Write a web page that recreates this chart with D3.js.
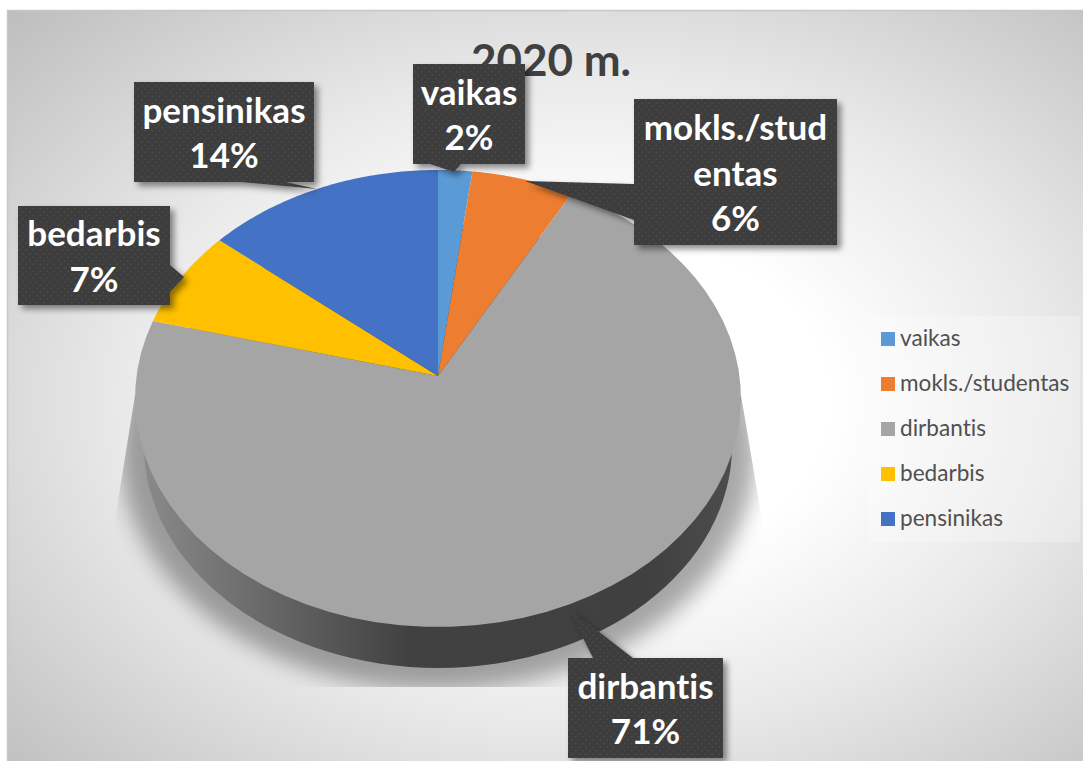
<!DOCTYPE html>
<html>
<head>
<meta charset="utf-8">
<script src="https://cdnjs.cloudflare.com/ajax/libs/d3/7.8.5/d3.min.js"></script>
<style>
  html, body { margin: 0; padding: 0; background: #fff; }
  svg { display: block; font-family: Lato, "Open Sans", sans-serif; font-variant-ligatures: none; }
</style>
</head>
<body>
<div id="chart"></div>
<script>
const title = "2020 m."
const categories = ["vaikas", "mokls./studentas", "dirbantis", "bedarbis", "pensinikas"]
const values = [2, 6, 71, 7, 14]
const labelLines = [["vaikas"], ["mokls./stud", "entas"], ["dirbantis"], ["bedarbis"], ["pensinikas"]]
const colors = ["#5b9bd5", "#ed7d31", "#a5a5a5", "#ffc000", "#4472c4"]

// Label boxes and where their pointers go (box x0,y0,x1,y1 then pointer polygon)
const callouts = [
  { box: [413, 64, 525, 164], tip: [[430, 164], [454, 172], [461, 164]] },
  { box: [634, 99, 837, 245], tip: [[634, 184], [525, 181], [634, 220]] },
  { box: [568, 658, 723, 758], tip: [[593, 658], [568, 608], [633, 658]] },
  { box: [18, 206, 170, 305], tip: [[170, 265], [184, 277], [170, 292]] },
  { box: [134, 82, 314, 182], tip: [[241, 182], [317, 189], [286, 182]] }
]

const width = 1083
const height = 761

// Pie disc in perspective: centre of the circle lands on the apex
const apex = { x: 438, y: 376 }
const persp = { f: 301.5, g: 226.3, k: -0.0985 }
const project = (angle, r = 1) => {
  const X = r * Math.sin(angle)
  const Y = -r * Math.cos(angle)
  const w = 1 + persp.k * Y
  return [apex.x + persp.f * X / w, apex.y + persp.g * Y / w]
}

const svg = d3.select("#chart").append("svg").attr("width", width).attr("height", height)
const defs = svg.append("defs")

const bg = defs.append("radialGradient").attr("id", "bg")
  .attr("cx", 0.54).attr("cy", 0.52).attr("r", 0.75)
bg.append("stop").attr("offset", 0.3).attr("stop-color", "#ffffff")
bg.append("stop").attr("offset", 0.58).attr("stop-color", "#e9e9e9")
bg.append("stop").attr("offset", 1).attr("stop-color", "#bdbdbd")

const wall = defs.append("linearGradient").attr("id", "wall")
  .attr("gradientUnits", "userSpaceOnUse")
  .attr("x1", 135).attr("x2", 741).attr("y1", 0).attr("y2", 0)
wall.append("stop").attr("offset", 0).attr("stop-color", "#8c8c8c")
wall.append("stop").attr("offset", 0.45).attr("stop-color", "#414141")
wall.append("stop").attr("offset", 0.85).attr("stop-color", "#404040")
wall.append("stop").attr("offset", 1).attr("stop-color", "#4e4e4e")

const dots = defs.append("pattern").attr("id", "dots")
  .attr("patternUnits", "userSpaceOnUse").attr("width", 7).attr("height", 7)
dots.append("rect").attr("width", 7).attr("height", 7).attr("fill", "#3e3e3e")
dots.append("circle").attr("cx", 1.75).attr("cy", 1.75).attr("r", 0.8).attr("fill", "#4e4e4e")
dots.append("circle").attr("cx", 5.25).attr("cy", 5.25).attr("r", 0.8).attr("fill", "#4e4e4e")

const blur = defs.append("filter").attr("id", "blur")
  .attr("x", "-20%").attr("y", "-20%").attr("width", "140%").attr("height", "140%")
blur.append("feGaussianBlur").attr("stdDeviation", 11)

const drop = defs.append("filter").attr("id", "drop")
  .attr("x", "-20%").attr("y", "-20%").attr("width", "140%").attr("height", "140%")
drop.append("feDropShadow").attr("dx", 4).attr("dy", 4).attr("stdDeviation", 3)
  .attr("flood-color", "#000").attr("flood-opacity", 0.45)

defs.append("clipPath").attr("id", "shadowClip").append("polygon")
  .attr("points", "135,395 115,520 115,687 762,687 762,520 741,395")

// Chart area
svg.append("rect").attr("x", 7).attr("y", 10)
  .attr("width", width - 7).attr("height", height - 10)
  .attr("fill", "url(#bg)")
svg.append("path").attr("d", `M7.5,${height}V10.5H${width}`)
  .attr("fill", "none").attr("stroke", "#c8c8c8").attr("stroke-width", 1.5)

// Shadow under the pie
svg.append("g").attr("clip-path", "url(#shadowClip)")
  .append("ellipse")
  .attr("cx", 438).attr("cy", 450).attr("rx", 318).attr("ry", 240)
  .attr("fill", "#000").attr("opacity", 0.34).attr("filter", "url(#blur)")

// Side wall
const base = svg.append("g").attr("fill", "url(#wall)")
base.append("ellipse").attr("cx", 438).attr("cy", 446).attr("rx", 294).attr("ry", 222)
base.append("polygon").attr("points", "135,398 144,446 732,446 741,398")

// Top of the pie
const pie = d3.pie().sort(null).value(d => d)
const arcs = pie(values)
const line = d3.line()

svg.append("g").selectAll("path")
  .data(arcs)
  .enter().append("path")
    .attr("d", d => {
      const steps = d3.range(0, 61).map(i => d.startAngle + (d.endAngle - d.startAngle) * i / 60)
      return line([[apex.x, apex.y], ...steps.map(a => project(a))]) + "Z"
    })
    .attr("fill", (d, i) => colors[i])

// Title, the vaikas box sits on top of it like in the original
svg.append("text").attr("x", 551).attr("y", 76)
  .attr("text-anchor", "middle")
  .attr("font-size", 44).attr("font-weight", 700).attr("fill", "#404040")
  .text(title)

// Data labels
const callout = svg.append("g").selectAll("g")
  .data(callouts)
  .enter().append("g")

callout.append("path")
  .attr("d", d => {
    const [x0, y0, x1, y1] = d.box
    return `M${x0},${y0}H${x1}V${y1}H${x0}Z` + line(d.tip) + "Z"
  })
  .attr("fill", "url(#dots)")
  .attr("filter", "url(#drop)")

callout.each(function (d, i) {
  const cx = (d.box[0] + d.box[2]) / 2
  const lines = [...labelLines[i], d3.format(".0%")(values[i] / 100)]
  const lineGap = 45.5
  const startY = (d.box[1] + d.box[3]) / 2 - (lines.length - 1) * lineGap / 2 + 13.5
  d3.select(this).selectAll("text")
    .data(lines)
    .enter().append("text")
      .attr("x", cx)
      .attr("y", (t, j) => startY + j * lineGap)
      .attr("text-anchor", "middle")
      .attr("font-size", 35).attr("font-weight", 700).attr("fill", "#ffffff")
      .text(t => t)
})

// Legend
const legend = svg.append("g")
legend.append("rect").attr("x", 868).attr("y", 316).attr("width", 212).attr("height", 226)
  .attr("fill", "#fff").attr("opacity", 0.25)

const legendY = d3.scalePoint().domain(categories).range([339, 519])
const item = legend.selectAll(".item")
  .data(categories)
  .enter().append("g").attr("class", "item")
  .attr("transform", d => `translate(881,${legendY(d)})`)
item.append("rect").attr("y", -7).attr("width", 14).attr("height", 14)
  .attr("fill", (d, i) => colors[i])
item.append("text").attr("x", 19).attr("y", 7)
  .attr("font-size", 22.6).attr("fill", "#505050")
  .text(d => d)
</script>
</body>
</html>
